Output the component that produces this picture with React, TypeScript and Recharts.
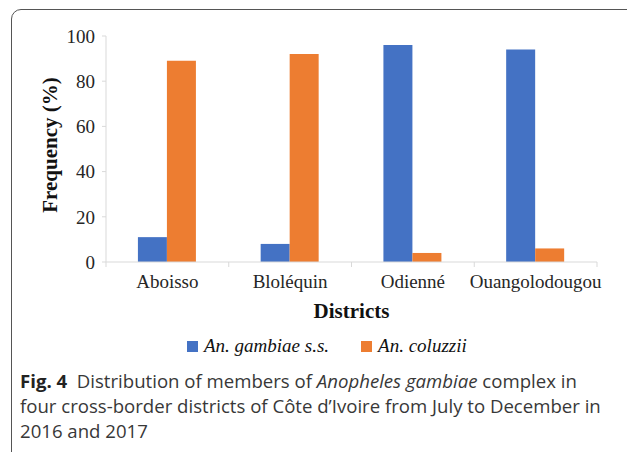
import { BarChart, Bar, XAxis, YAxis } from "recharts";

const districts = ["Aboisso", "Bloléquin", "Odienné", "Ouangolodougou"];
const gambiae = [11, 8, 96, 94];
const coluzzii = [89, 92, 4, 6];
const seriesNames = ["An. gambiae s.s.", "An. coluzzii"];
const yTicks = [0, 20, 40, 60, 80, 100];

const BLUE = "#4472C4";
const ORANGE = "#ED7D31";
const AXIS = "#d9d9d9";
const SERIF = "'Liberation Serif', 'Times New Roman', serif";

const chartData = districts.map((d, i) => ({
  name: d,
  gambiae: gambiae[i],
  coluzzii: coluzzii[i],
}));

// category label plus the Excel-style tick marks on the band edges
const DistrictTick = (props: any) => {
  const { x, y, payload, index, width, visibleTicksCount } = props;
  const band = width && visibleTicksCount ? width / visibleTicksCount : 122.75;
  const axisY = y - 13;
  const left = x - band / 2;
  const last = index === visibleTicksCount - 1;
  return (
    <g>
      <line x1={left} x2={left} y1={axisY} y2={axisY + 5} stroke={AXIS} />
      {last && <line x1={left + band} x2={left + band} y1={axisY} y2={axisY + 5} stroke={AXIS} />}
      <text x={x} y={y} dy="0.71em" textAnchor="middle" fill="#262626" fontSize={19} fontFamily={SERIF}>
        {payload.value}
      </text>
    </g>
  );
};

const YLabel = (props: any) => {
  const vb = props.viewBox || { x: 0, y: 36, width: 106, height: 226 };
  const cx = vb.x + vb.width / 2 - 3;
  const cy = vb.y + vb.height / 2 - 4;
  return (
    <text
      x={cx}
      y={cy}
      transform={`rotate(-90 ${cx} ${cy})`}
      textAnchor="middle"
      dominantBaseline="central"
      fontWeight="bold"
      fontSize={21}
      fontFamily={SERIF}
      fill="#111"
    >
      Frequency (%)
    </text>
  );
};

const legendItems = [
  { name: seriesNames[0], color: BLUE },
  { name: seriesNames[1], color: ORANGE },
];

export default function App() {
  return (
    <div
      style={{
        position: "absolute",
        left: 0,
        top: 0,
        width: 627,
        height: 452,
        overflow: "hidden",
        background: "#fff",
      }}
    >
      <div
        style={{
          position: "absolute",
          left: 11,
          top: 9,
          width: 640,
          height: 480,
          border: "1.5px solid #555",
          borderRadius: 10,
        }}
      />
      <div style={{ position: "absolute", left: 0, top: 0 }}>
        <BarChart
          width={627}
          height={330}
          data={chartData}
          margin={{ top: 36, right: 30, left: 0, bottom: 8 }}
          barCategoryGap="26%"
          barGap={0}
        >
          <XAxis
            dataKey="name"
            height={60}
            stroke={AXIS}
            tickLine={false}
            tickSize={5}
            tickMargin={8}
            tick={<DistrictTick />}
            interval={0}
            label={{
              value: "Districts",
              position: "insideBottom",
              offset: 4,
              fill: "#111",
              fontSize: 21,
              fontWeight: "bold",
              fontFamily: SERIF,
            }}
          />
          <YAxis
            width={106}
            domain={[0, 100]}
            ticks={yTicks}
            stroke={AXIS}
            tickSize={4}
            tickMargin={7}
            tick={{ fill: "#262626", fontSize: 19, fontFamily: SERIF }}
            label={<YLabel />}
          />
          <Bar dataKey="gambiae" name={seriesNames[0]} fill={BLUE} isAnimationActive={false} />
          <Bar dataKey="coluzzii" name={seriesNames[1]} fill={ORANGE} isAnimationActive={false} />
        </BarChart>
      </div>
      <div
        style={{
          position: "absolute",
          left: 187,
          top: 335,
          display: "flex",
          alignItems: "center",
          fontFamily: SERIF,
          fontStyle: "italic",
          fontSize: 19,
          color: "#111",
        }}
      >
        {legendItems.map((it, i) => (
          <div key={it.name} style={{ display: "flex", alignItems: "center", marginLeft: i === 0 ? 0 : 32 }}>
            <span style={{ width: 11, height: 11, background: it.color, marginRight: 6 }} />
            <span>{it.name}</span>
          </div>
        ))}
      </div>
      <div
        style={{
          position: "absolute",
          left: 20,
          top: 368,
          fontFamily: "'Open Sans', sans-serif",
          fontSize: 18.6,
          lineHeight: "25px",
          color: "#383838",
          whiteSpace: "nowrap",
        }}
      >
        <div>
          <b style={{ color: "#222" }}>Fig. 4</b>&nbsp; Distribution of members of <i>Anopheles gambiae</i> complex in
        </div>
        <div>four cross-border districts of Côte d’Ivoire from July to December in</div>
        <div>2016 and 2017</div>
      </div>
    </div>
  );
}
